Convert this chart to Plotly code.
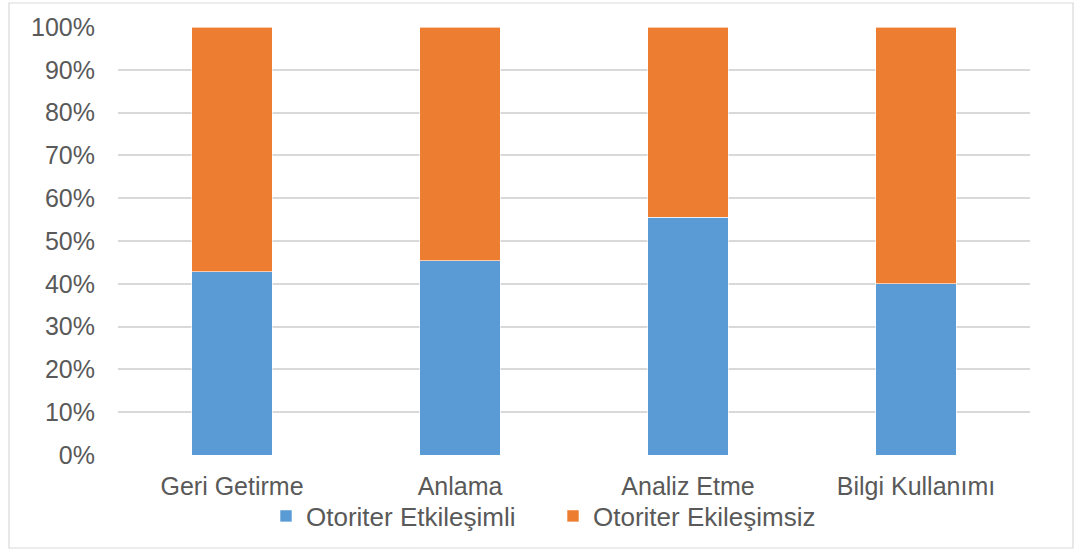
import plotly.graph_objects as go

categories = ["Geri Getirme", "Anlama", "Analiz Etme", "Bilgi Kullanımı"]
etkilesimli = [42.8, 45.4, 55.5, 40.0]
ekilesimsiz = [57.2, 54.6, 44.5, 60.0]
series_names = ["Otoriter Etkileşimli", "Otoriter Ekileşimsiz"]
y_ticks = [0, 10, 20, 30, 40, 50, 60, 70, 80, 90, 100]
y_tick_labels = [f"{v}%" for v in y_ticks]

W, H = 1076, 551
L, R, T, B = 118, 1030, 27, 455

fig = go.Figure()
fig.add_trace(go.Bar(x=categories, y=etkilesimli, name=series_names[0],
                     marker=dict(color="#5B9BD5", line=dict(color="#FFFFFF", width=0.6))))
fig.add_trace(go.Bar(x=categories, y=ekilesimsiz, name=series_names[1],
                     marker=dict(color="#ED7D31", line=dict(color="#FFFFFF", width=0.6))))

def px(x):
    return (x - L) / (R - L)

def py(y):
    return (B - y) / (B - T)

FS = 25
fig.update_layout(
    width=W, height=H,
    barmode="stack",
    bargap=0.645,
    plot_bgcolor="white",
    paper_bgcolor="white",
    margin=dict(l=L, r=W - R, t=T, b=H - B, pad=0),
    font=dict(family="Liberation Sans, Arial, sans-serif", size=FS, color="#595959"),
    showlegend=True,
    legend=dict(orientation="h", x=px(266), xanchor="left", y=py(516), yanchor="middle",
                font=dict(size=26, color="#595959"), itemwidth=30, entrywidth=242,
                bgcolor="rgba(0,0,0,0)", traceorder="normal"),
    xaxis=dict(showgrid=False, showline=False, ticks="", ticklabelstandoff=14,
               tickfont=dict(size=FS, color="#595959")),
    yaxis=dict(range=[0, 100], tickvals=y_ticks, ticktext=y_tick_labels,
               showgrid=True, gridcolor="#D9D9D9", gridwidth=1.5,
               zeroline=False, showline=False, ticks="", ticklabelstandoff=22,
               tickfont=dict(size=FS, color="#595959")),
    shapes=[dict(type="rect", xref="paper", yref="paper",
                 x0=px(9), x1=px(1073), y0=py(548), y1=py(3),
                 line=dict(color="#D9D9D9", width=1.2), fillcolor="rgba(0,0,0,0)", layer="below")],
)

fig.write_html("out.html")
